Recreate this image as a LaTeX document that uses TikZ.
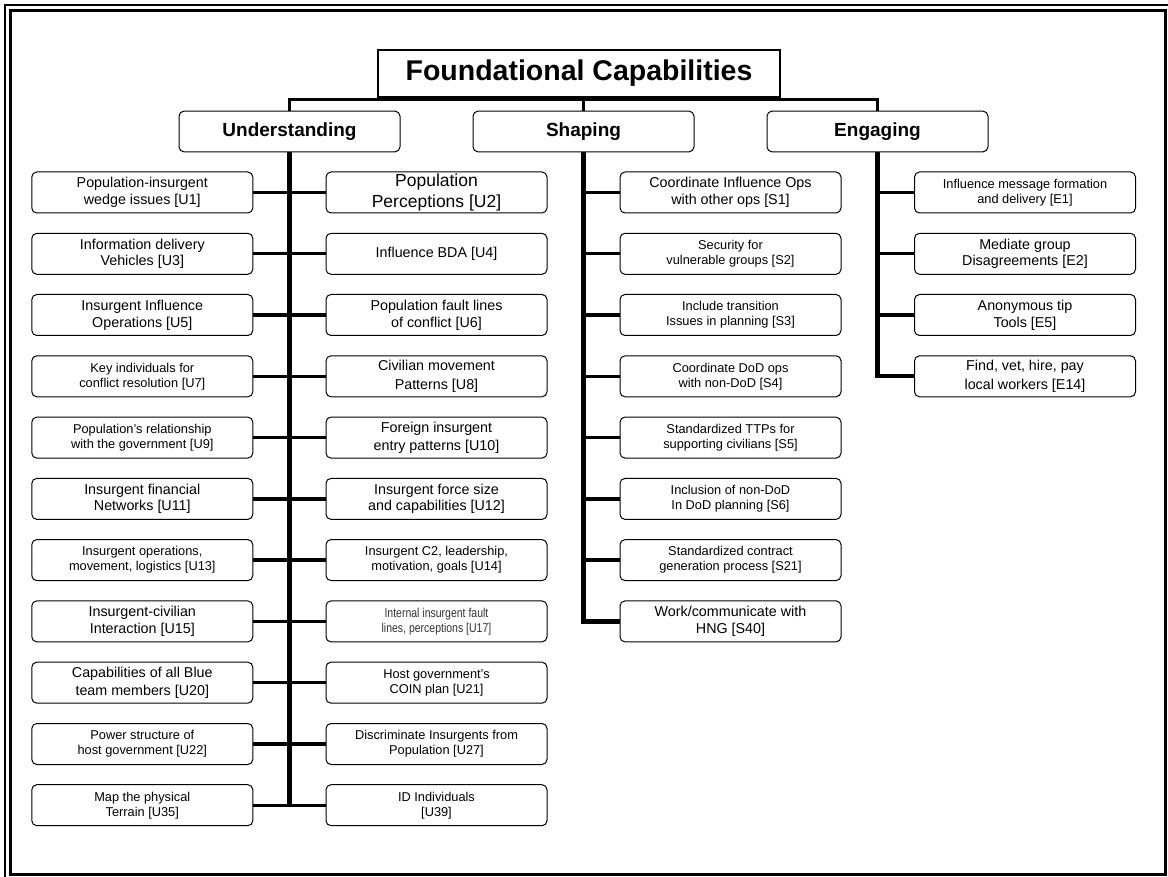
\documentclass[tikz,border=0pt]{standalone}
\usepackage{fontspec}
\setmainfont{Liberation Sans}
\newfontfamily\narrowfont[FakeStretch=0.82]{Liberation Sans}
\usepackage{tikz}

\newcommand{\fsn}{\fontsize{14.3}{16.8}\selectfont}
\newcommand{\fsw}{\fontsize{14.3}{18.2}\selectfont}
\newcommand{\fss}{\fontsize{12.8}{15}\selectfont}
\newcommand{\fsl}{\fontsize{17.5}{20.6}\selectfont}
\newcommand{\fsc}{\narrowfont\fontsize{12.8}{15.3}\selectfont}

\begin{document}
\begin{tikzpicture}[x=1pt,y=-1pt]
	\tikzstyle{capbox} = [draw=black, line width=1, rounded corners=5, minimum width=221, minimum height=41, inner sep=0, align=center, font=\fsn]
	\tikzstyle{catbox} = [capbox, minimum height=40.7, font=\bfseries\fontsize{19}{21}\selectfont]
	\tikzstyle{titlebox} = [draw=black, line width=1.2, minimum width=402, minimum height=47, inner sep=0, font=\bfseries\fontsize{28.5}{30}\selectfont]
	\tikzstyle{trunk} = [draw=black, line width=4.2]
	\tikzstyle{branch} = [draw=black, line width=3.3]
	\tikzstyle{bar} = [draw=black, line width=3]
	\useasboundingbox (0,0) rectangle (1168,877);
	% frame
	\draw[line width=2] (1168,5) -- (5,5) -- (5,877);
	\draw[line width=3] (10.5,10.5) rectangle (1165.5,874.5);
		\node[titlebox] (title) at (579,73.5) {Foundational Capabilities};
		\node[catbox] (und) at (289.5,131.5) {Understanding};
		\node[catbox] (shp) at (583.5,131.5) {Shaping};
		\node[catbox] (eng) at (877.5,131.5) {Engaging};
		\coordinate (top) at (583.5,100);
	% understanding, left
		\node[capbox] (u1) at (142.3,192.5) {Population-insurgent\\wedge issues [U1]};
		\node[capbox] (u3) at (142.3,253.8) {Information delivery\\Vehicles [U3]};
		\node[capbox] (u5) at (142.3,315.0) {Insurgent Influence\\Operations [U5]};
		\node[capbox, font=\fss] (u7) at (142.3,376.3) {Key individuals for\\conflict resolution [U7]};
		\node[capbox, font=\fss] (u9) at (142.3,437.6) {Population's relationship\\with the government [U9]};
		\node[capbox] (u11) at (142.3,498.9) {Insurgent financial\\Networks [U11]};
		\node[capbox, font=\fss] (u13) at (142.3,560.1) {Insurgent operations,\\movement, logistics [U13]};
		\node[capbox] (u15) at (142.3,621.4) {Insurgent-civilian\\Interaction [U15]};
		\node[capbox, font=\fsw] (u20) at (142.3,682.7) {Capabilities of all Blue\\team members [U20]};
		\node[capbox, font=\fss] (u22) at (142.3,744.0) {Power structure of\\host government [U22]};
		\node[capbox, font=\fss] (u35) at (142.3,805.2) {Map the physical\\Terrain [U35]};
	% understanding, right
		\node[capbox, font=\fsl] (u2) at (436.5,192.5) {Population\\Perceptions [U2]};
		\node[capbox] (u4) at (436.5,253.8) {Influence BDA [U4]};
		\node[capbox] (u6) at (436.5,315.0) {Population fault lines\\of conflict [U6]};
		\node[capbox, font=\fsw] (u8) at (436.5,376.3) {Civilian movement\\Patterns [U8]};
		\node[capbox, font=\fsw] (u10) at (436.5,437.6) {Foreign insurgent\\entry patterns [U10]};
		\node[capbox] (u12) at (436.5,498.9) {Insurgent force size\\and capabilities [U12]};
		\node[capbox, font=\fss] (u14) at (436.5,560.1) {Insurgent C2, leadership,\\motivation, goals [U14]};
		\node[capbox, font=\fsc, text=black!80] (u17) at (436.5,621.4) {Internal insurgent fault\\lines, perceptions [U17]};
		\node[capbox, font=\fss] (u21) at (436.5,682.7) {Host government's\\COIN plan [U21]};
		\node[capbox, font=\fss] (u27) at (436.5,744.0) {Discriminate Insurgents from\\Population [U27]};
		\node[capbox, font=\fss] (u39) at (436.5,805.2) {ID Individuals\\{}[U39]};
	% shaping
		\node[capbox] (s1) at (730.5,192.5) {Coordinate Influence Ops\\with other ops [S1]};
		\node[capbox, font=\fss] (s2) at (730.5,253.8) {Security for\\vulnerable groups [S2]};
		\node[capbox, font=\fss] (s3) at (730.5,315.0) {Include transition\\Issues in planning [S3]};
		\node[capbox, font=\fss] (s4) at (730.5,376.3) {Coordinate DoD ops\\with non-DoD [S4]};
		\node[capbox, font=\fss] (s5) at (730.5,437.6) {Standardized TTPs for\\supporting civilians [S5]};
		\node[capbox, font=\fss] (s6) at (730.5,498.9) {Inclusion of non-DoD\\In DoD planning [S6]};
		\node[capbox, font=\fss] (s21) at (730.5,560.1) {Standardized contract\\generation process [S21]};
		\node[capbox] (s40) at (730.5,621.4) {Work/communicate with\\HNG [S40]};
	% engaging
		\node[capbox, font=\fss] (e1) at (1025,192.5) {Influence message formation\\and delivery [E1]};
		\node[capbox] (e2) at (1025,253.8) {Mediate group\\Disagreements [E2]};
		\node[capbox] (e5) at (1025,315.0) {Anonymous tip\\Tools [E5]};
		\node[capbox, font=\fsw] (e14) at (1025,376.3) {Find, vet, hire, pay\\local workers [E14]};
	% top bar
	\draw[bar] (und.north) |- (top) -| (eng.north);
	\draw[bar] (shp.north |- title.south) -- (shp.north);
	% trunks
	\draw[trunk] (und.south) -- (und.south |- u35.east);
	\draw[trunk] (shp.south) |- (s40.west);
	\draw[trunk] (eng.south) |- (e14.west);
	% branches
	\draw[branch] (u1.east) -- (u2.west);
	\draw[branch] (u3.east) -- (u4.west);
	\draw[branch] (u5.east) -- (u6.west);
	\draw[branch] (u7.east) -- (u8.west);
	\draw[branch] (u9.east) -- (u10.west);
	\draw[branch] (u11.east) -- (u12.west);
	\draw[branch] (u13.east) -- (u14.west);
	\draw[branch] (u15.east) -- (u17.west);
	\draw[branch] (u20.east) -- (u21.west);
	\draw[branch] (u22.east) -- (u27.west);
	\draw[branch] (u35.east) -- (u39.west);
	\draw[branch] (shp.south |- s1.west) -- (s1.west);
	\draw[branch] (shp.south |- s2.west) -- (s2.west);
	\draw[branch] (shp.south |- s3.west) -- (s3.west);
	\draw[branch] (shp.south |- s4.west) -- (s4.west);
	\draw[branch] (shp.south |- s5.west) -- (s5.west);
	\draw[branch] (shp.south |- s6.west) -- (s6.west);
	\draw[branch] (shp.south |- s21.west) -- (s21.west);
	\draw[branch] (eng.south |- e1.west) -- (e1.west);
	\draw[branch] (eng.south |- e2.west) -- (e2.west);
	\draw[branch] (eng.south |- e5.west) -- (e5.west);
	\end{tikzpicture}
\end{document}
